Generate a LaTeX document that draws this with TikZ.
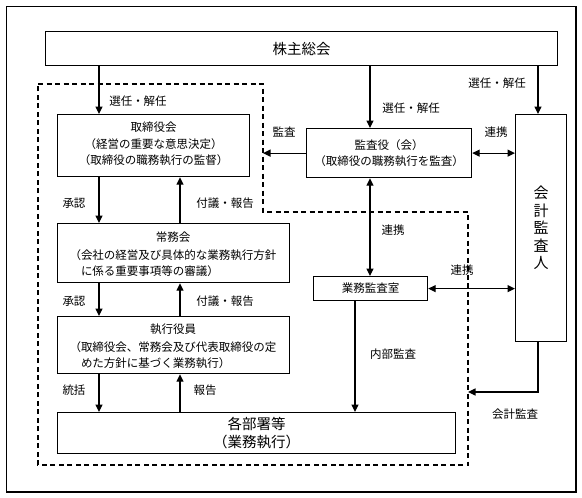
\documentclass[tikz,border=0pt]{standalone}
\usepackage{fontspec}
\setmainfont{Noto Sans CJK JP}
\usetikzlibrary{arrows.meta}
\begin{document}
\begin{tikzpicture}[x=1pt,y=-1pt,
  line width=1.2pt,
  box/.style={draw, line width=1.2pt, inner sep=0pt, anchor=north west},
  txt/.style={inner sep=0pt, font=\fontsize{11.5}{16.5}\selectfont},
  big/.style={inner sep=0pt, font=\fontsize{14.5}{17.5}\selectfont},
  lab/.style={inner sep=0pt, font=\fontsize{11.5}{14}\selectfont},
  arr/.style={-{Triangle[length=7.5pt,width=7pt]}},
  darr/.style={{Triangle[length=7.5pt,width=7pt]}-{Triangle[length=7.5pt,width=7pt]}},
  dashline/.style={dash pattern=on 5pt off 3.5pt, line width=1.2pt}
]
\useasboundingbox (0,0) rectangle (582,498);
% outer frame
\draw (6.5,6.5) rectangle (576,492);
% dashed region
\draw[dashline] (38,84) -- (263,84) -- (263,212) -- (468,212) -- (468,465) -- (38,465) -- cycle;

% boxes
\node[box, minimum width=512pt, minimum height=34pt] (share) at (45,31) {};
\node[big] (share-t) at (share.center) {株主総会};

\node[box, minimum width=192pt, minimum height=62pt] (board) at (57,114) {};
\node[txt, align=center] (board-t) at ([yshift=1.5pt]board.center) {取締役会\\（経営の重要な意思決定）\\（取締役の職務執行の監督）};

\node[box, minimum width=165pt, minimum height=49pt] (kansa) at (306,128) {};
\node[txt, align=center] (kansa-t) at (kansa.center) {監査役（会）\\（取締役の職務執行を監査）};

\node[box, minimum width=51pt, minimum height=227pt] (kaikei) at (515,114) {};
\node[inner sep=0pt, align=center, font=\fontsize{15}{17.5}\selectfont] (kaikei-t) at (kaikei.center) {会\\計\\監\\査\\人};

\node[box, minimum width=232pt, minimum height=59pt] (jomu) at (57,223) {};
\node[txt] (jomu-t) at (173,237) {常務会};
\node[txt, align=left] (jomu-b) at (173,263) {（会社の経営及び具体的な業務執行方針\\\hspace*{1em}に係る重要事項等の審議）};

\node[box, minimum width=232pt, minimum height=57pt] (shikko) at (57,316) {};
\node[txt] (shikko-t) at (173,329) {執行役員};
\node[txt, align=left] (shikko-b) at (173,355) {（取締役会、常務会及び代表取締役の定\\\hspace*{1em}めた方針に基づく業務執行）};

\node[box, minimum width=398pt, minimum height=41pt] (busho) at (57,412) {};
\node[big, align=center] (busho-t) at (busho.center) {各部署等\\（業務執行）};

\node[box, minimum width=114pt, minimum height=24pt] (naibu) at (313,276) {};
\node[txt] (naibu-t) at (naibu.center) {業務監査室};

% column coordinates
\coordinate (cA) at (99,0);
\coordinate (cB) at (180,0);
\coordinate (cC) at (370,0);
\coordinate (cD) at (538,0);
\coordinate (cE) at (355,0);
\coordinate (dV) at (263,0);
\coordinate (kaCorner) at (538,392);
\coordinate (kaEnd) at (468,392);

% connectors
\draw[arr] (cA |- share.south) -- (cA |- board.north);
\draw[arr] (cC |- share.south) -- (cC |- kansa.north);
\draw[arr] (cD |- share.south) -- (cD |- kaikei.north);
\draw[arr] (kansa.west) -- (dV |- kansa.west);
\draw[darr] (kansa.east) -- (kaikei.west |- kansa.east);
\draw[arr] (cA |- board.south) -- (cA |- jomu.north);
\draw[arr] (cB |- jomu.north) -- (cB |- board.south);
\draw[arr] (cA |- jomu.south) -- (cA |- shikko.north);
\draw[arr] (cB |- shikko.north) -- (cB |- jomu.south);
\draw[arr] (cA |- shikko.south) -- (cA |- busho.north);
\draw[arr] (cB |- busho.north) -- (cB |- shikko.south);
\draw[darr] (cC |- kansa.south) -- (cC |- naibu.north);
\draw[arr] (cE |- naibu.south) -- (cE |- busho.north);
\draw[darr] (naibu.east) -- (kaikei.west |- naibu.east);
\draw[arr] (cD |- kaikei.south) -- (kaCorner) -- (kaEnd);

% labels
\node[lab] (l1) at (138,101) {選任・解任};
\node[lab] (l2) at (411,108) {選任・解任};
\node[lab] (l3) at (497,83) {選任・解任};
\node[lab] (l4) at (284,132) {監査};
\node[lab] (l5) at (496,132) {連携};
\node[lab] (l6) at (74,203) {承認};
\node[lab] (l7) at (225,203) {付議・報告};
\node[lab] (l8) at (74,301) {承認};
\node[lab] (l9) at (225,301) {付議・報告};
\node[lab] (l10) at (74,390) {統括};
\node[lab] (l11) at (205,390) {報告};
\node[lab] (l12) at (393,230) {連携};
\node[lab] (l13) at (462,270) {連携};
\node[lab] (l14) at (393,354) {内部監査};
\node[lab] (l15) at (515,414) {会計監査};
\end{tikzpicture}
\end{document}
